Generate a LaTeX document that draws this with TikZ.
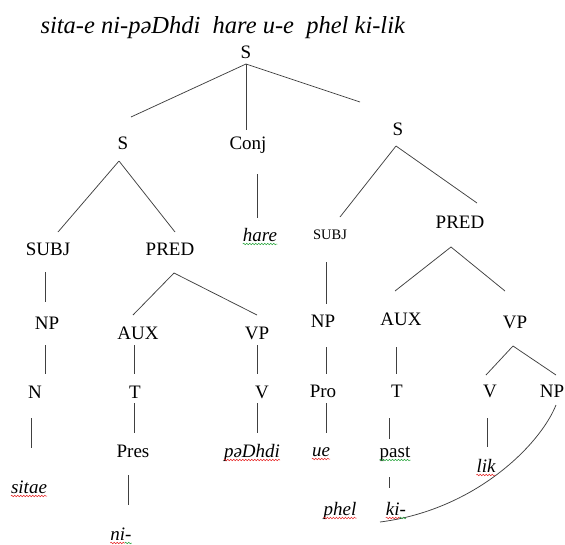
\documentclass[tikz,border=0pt]{standalone}
\usepackage{fontspec}
\setmainfont{Liberation Serif}
\usetikzlibrary{calc,decorations.pathmorphing}
\definecolor{spellred}{RGB}{230,35,35}
\definecolor{gramgreen}{RGB}{40,165,60}

\tikzset{
  cat/.style={inner sep=0pt, text height=12.6pt, text depth=0pt, font=\fontsize{19}{22}\selectfont},
  word/.style={cat, font=\fontsize{19}{22}\selectfont\itshape},
  branch/.style={black!75, line width=0.75pt},
  squiggle/.style={decorate, decoration={snake, amplitude=0.8pt, segment length=3pt}, line width=0.5pt}
}

\begin{document}
\begin{tikzpicture}[x=1pt, y=-1pt]
  \useasboundingbox (0,0) rectangle (565,544);
  \node[anchor=base west, font=\fontsize{24.5}{28}\selectfont\itshape] (gloss) at (37,33)
    {sita-e ni-pəDhdi\ \ hare u-e\ \ phel ki-lik};
  % category labels
  \foreach \n/\pos/\txt in {root/{246,52}/S, s1/{123,143}/S, conj/{248,143}/Conj, s2/{398,129}/S,
      subj1/{48,249}/SUBJ, pred1/{170,249}/PRED, pred2/{460,222}/PRED,
      np1/{47,323}/NP, aux1/{138,333}/AUX, vp1/{257,333}/VP,
      np2/{323,321}/NP, aux2/{401,319}/AUX, vp2/{515,322}/VP,
      n1/{35,392}/N, t1/{135,392}/T, v1/{262,392}/V,
      pro/{323,391}/Pro, t2/{397,391}/T, v2/{490,391}/V, np3/{552,391}/NP,
      pres/{133,451}/Pres, past/{395,451}/past}{
    \node[cat] (\n) at (\pos) {\txt};
  }
  \node[cat, font=\fontsize{14.5}{17}\selectfont] (subj2) at (330,233) {SUBJ};
  % the words
  \foreach \n/\pos/\txt in {hare/{260,235}/hare, sitae/{29,487}/sitae, padhdi/{252,451}/pəDhdi,
      ue/{321,450}/ue, lik/{486,466}/lik, ni/{121,534}/ni-, phel/{340,509}/phel, ki/{396,509}/ki-}{
    \node[word] (\n) at (\pos) {\txt};
  }
  % branches: parent/child/start offset/end offset
  \foreach \p/\c/\a/\b in {root/s1/{0,12}/{8,-26}, root/conj/{0,12}/{-2,-13}, root/s2/{0,12}/{-38,-27},
      s1/subj1/{-4,18}/{10,-17}, s1/pred1/{-4,18}/{5,-17}, conj/hare/{9,31}/{-3,-17},
      s2/subj2/{-2,17}/{10,-16}, s2/pred2/{-2,17}/{17,-19},
      subj1/np1/{-3,23}/{-2,-21}, pred1/aux1/{4,24}/{-5,-18}, pred1/vp1/{4,24}/{0,-18},
      subj2/np2/{-4,29}/{3,-17}, pred2/aux2/{-9,25}/{-6,-28}, pred2/vp2/{-9,25}/{-10,-31},
      np1/n1/{-2,22}/{10,-18}, aux1/t1/{-4,12}/{-1,-18}, vp1/v1/{0,12}/{-5,-18},
      np2/pro/{3,26}/{3,-17}, aux2/t2/{-5,28}/{-1,-17},
      vp2/v2/{-2,24}/{-4,-16}, vp2/np3/{-2,24}/{4,-16},
      n1/sitae/{-4,26}/{2,-39}, t1/pres/{-1,11}/{1,-18}, v1/padhdi/{-5,11}/{5,-18},
      pro/ue/{3,12}/{5,-17}, t2/past/{-8,27}/{-6,-12}, v2/lik/{-3,27}/{1,-19},
      pres/ni/{-5,24}/{7,-29}, past/ki/{-6,26}/{-7,-21}}{
    \draw[branch] ([shift={(\a)}]\p.center) -- ([shift={(\b)}]\c.center);
  }
  \draw[branch] ([shift={(4,14)}]np3.center) .. controls (540,445) and (475,510) .. ([shift={(40,13)}]phel.center);
  % spell-check marks under the words
  \foreach \w/\col in {sitae/spellred, padhdi/spellred, ue/spellred, lik/spellred, phel/spellred,
      hare/gramgreen, past/gramgreen}{
    \draw[squiggle, \col] ([yshift=-2.5pt]\w.south west) -- ([yshift=-2.5pt]\w.south east);
  }
  \foreach \w in {ni, ki}{
    \draw[squiggle, spellred] ([yshift=-2.5pt]\w.south west) -- ([yshift=-2.5pt]$(\w.south west)!0.68!(\w.south east)$);
    \draw[squiggle, gramgreen] ([yshift=-2.5pt]$(\w.south west)!0.68!(\w.south east)$) -- ([yshift=-2.5pt]\w.south east);
  }
\end{tikzpicture}
\end{document}
